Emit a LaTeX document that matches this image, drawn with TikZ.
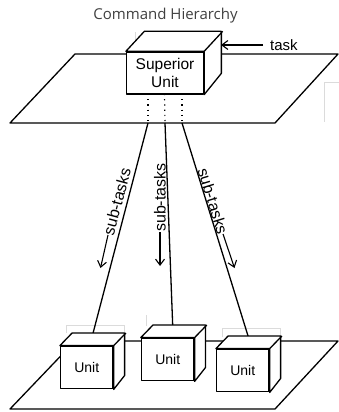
\documentclass[tikz,border=0pt]{standalone}
\usepackage{fontspec}
\setmainfont{Liberation Sans}
\newfontfamily\titlefont{Open Sans}
\usetikzlibrary{arrows.meta}
\tikzset{
  x=1pt, y=-1pt,
  edge/.style={line width=1.3pt, line join=round},
  faint/.style={draw=black!14, line width=0.6pt},
  cubefront/.style={edge, draw, fill=white, inner sep=0pt, align=center},
  unitbox/.style={cubefront, minimum width=52.5pt, minimum height=42.5pt, font=\fontsize{14}{16}\selectfont},
  supbox/.style={cubefront, minimum width=77pt, minimum height=42pt, font=\fontsize{15.5}{18.3}\selectfont},
  link/.style={edge},
  linkdots/.style={line width=1.2pt, dash pattern=on 1.2pt off 4pt},
  tasklabel/.style={inner sep=0pt, font=\fontsize{16}{18}\selectfont},
  pointer/.style={line width=1.1pt, -{Straight Barb[length=6pt,width=9pt,line width=1.1pt]}}
}
\begin{document}
\begin{tikzpicture}
\useasboundingbox (0,0) rectangle (339,412);

% title
\node[font=\titlefont\fontsize{15}{18}\selectfont, text=black!75, anchor=base] (title) at (165.5,20) {Command Hierarchy};

% the two planes
\draw[edge] (75,54) -- (338,54) -- (275,123) -- (10,123) -- cycle;
\draw[edge] (75,341) -- (338,341) -- (275,409) -- (10,409) -- cycle;

% faint guide frames
\draw[faint] (135,52) -- (135,32);
\draw[faint] (339,82) -- (324,82) -- (324,122);
\draw[faint] (66,333) -- (66,325) -- (124,325) -- (124,333);
\draw[faint] (146.7,315) -- (146.7,326);
\draw[faint] (222.7,337) -- (222.7,328) -- (280,328) -- (280,337);

% connector points
\coordinate (d1) at (148,94);
\coordinate (d2) at (164.5,94);
\coordinate (d3) at (182,94);
\coordinate (e1) at (148,123);
\coordinate (e2) at (165,123);
\coordinate (e3) at (182,123);
\coordinate (t1) at (93,333.3);
\coordinate (t2) at (172.7,325.5);
\coordinate (t3) at (248.3,336.8);

% delegation lines
\draw[linkdots] (d1) -- (e1);
\draw[linkdots] (d2) -- (e2);
\draw[linkdots] (d3) -- (e3);
\draw[link] (e1) -- (t1);
\draw[link] (e2) -- (t2);
\draw[link] (e3) -- (t3);

% sub-task labels with their arrows
\coordinate (b1) at (108,235);
\coordinate (b2) at (160,232);
\coordinate (b3) at (223,234);
\coordinate (a1) at (100.5,268);
\coordinate (a2) at (160,266);
\coordinate (a3) at (234.5,268);
\node[tasklabel, rotate=75, anchor=west] (s1) at (b1) {sub-tasks};
\node[tasklabel, rotate=90, anchor=west] (s2) at (b2) {sub-tasks};
\node[tasklabel, rotate=-73, anchor=east] (s3) at (b3) {sub-tasks};
\draw[pointer] (b1) -- (a1);
\draw[pointer] (b2) -- (a2);
\draw[pointer] (b3) -- (a3);

% superior unit
\node[supbox] (sup) at (165,73) {Superior\\Unit};
\draw[edge, fill=white] (sup.north west) -- ++(18.5,-20) -- ++(77,0) -- ++(0,42) -- (sup.south east) -- (sup.north east) -- cycle;
\draw[edge] (sup.north east) -- ++(18.5,-20);

% subordinate units
\node[unitbox] (u1) at (86.8,367.5) {Unit};
\node[unitbox] (u2) at (167.7,359.5) {Unit};
\node[unitbox] (u3) at (242.8,370.5) {Unit};
\foreach \u in {u1,u2,u3}{
  \draw[edge, fill=white] (\u.north west) -- ++(12.2,-12.6) -- ++(52.5,0) -- ++(0,42.5) -- (\u.south east) -- (\u.north east) -- cycle;
  \draw[edge] (\u.north east) -- ++(12.2,-12.6);
}

% incoming task
\node[font=\fontsize{15}{18}\selectfont, anchor=base west, inner sep=0pt] (task) at (270,51) {task};
\coordinate (taskhit) at (221,45);
\draw[pointer] (task.west |- taskhit) ++(-7,0) -- (taskhit);
\end{tikzpicture}
\end{document}
